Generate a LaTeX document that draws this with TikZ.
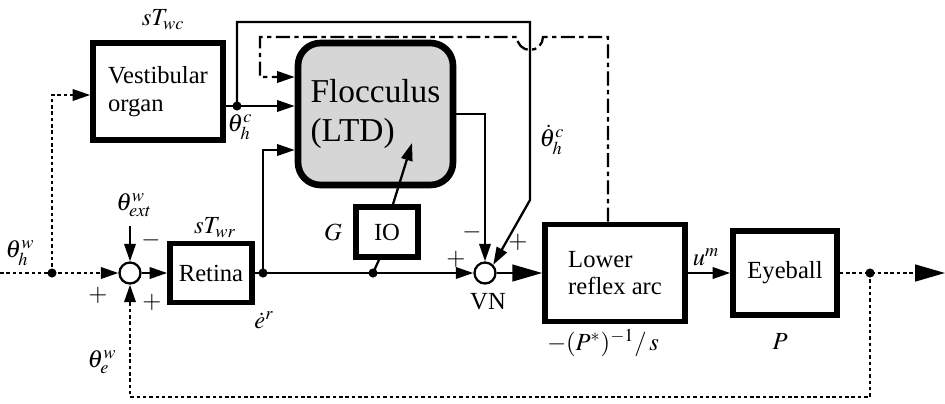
\documentclass[tikz,border=0pt]{standalone}
\usepackage{mathptmx}
\usepackage{fontspec}
\setmainfont{Liberation Serif}
\usetikzlibrary{arrows.meta,positioning,calc}
\begin{document}
\begin{tikzpicture}[x=0.02cm,y=-0.02cm,
  blk/.style={
    draw, line width=3.2pt, fill=white,
    inner sep=2pt, font=\fontsize{14}{15.5}\selectfont
  },
  sum/.style={circle, draw, line width=1.3pt, fill=white, minimum size=0.42cm, inner sep=0},
  sig/.style={line width=1.3pt, -{Triangle[length=10pt,width=6.5pt]}},
  bigsig/.style={line width=1.3pt, -{Triangle[length=17pt,width=9.5pt]}},
  dotsig/.style={line width=1.4pt, dash pattern=on 2pt off 1.6pt},
  dashdot/.style={line width=1.4pt, dash pattern=on 8pt off 2.5pt on 2.5pt off 2.5pt},
  lab/.style={font=\fontsize{14}{15.5}\selectfont, inner sep=1pt},
]
\useasboundingbox (0,0) rectangle (945,403);
% Blocks
\node[blk,minimum width=2.6cm,minimum height=1.94cm,align=left] (vest) at (158,91.5) {Vestibular\\organ};
\node[blk,minimum width=3.1cm,minimum height=2.84cm,rounded corners=0.45cm,line width=3.8pt,
  fill=gray!32,align=left,font=\fontsize{19}{22.5}\selectfont] (floc) at (375.5,114) {Flocculus\\(LTD)};
\node[blk,minimum width=1.64cm,minimum height=1.18cm,inner sep=0pt] (ret) at (211,273) {Retina};
\node[blk,minimum width=1.24cm,minimum height=1.0cm] (io) at (387,232) {IO};
\node[blk,minimum width=2.8cm,minimum height=1.94cm,align=left] (low) at (615,273) {Lower\\reflex arc};
\node[blk,minimum width=2.08cm,minimum height=1.68cm] (eye) at (785,273) {Eyeball};
% Summing points
\node[sum] (s1) at (130,273) {};
\node[sum] (vn) at (485,273) {};
% Branch points
\coordinate (in)   at (0,273);
\coordinate (jin)  at (52,273);
\coordinate (vin)  at (52,95);
\coordinate (jvc)  at (237,106);
\coordinate (vc1)  at (237,22);
\coordinate (vc2)  at (530,200);
\coordinate (jret) at (263,273);
\coordinate (rf)   at (263,150);
\coordinate (jio)  at (373,273);
\coordinate (ltd)  at (412,143);
\coordinate (jeye) at (870,273);
\coordinate (fb)   at (870,397);
\coordinate (out)  at (945,273);
\coordinate (ext)  at (130,226);
\coordinate (hop)  at (543,37);
\coordinate (dd2)  at (260,77);
% Head rotation and feedback
\draw[dotsig] (in) -- (jin);
\draw[dotsig,sig] (jin) -- (s1);
\draw[dotsig,sig] (jin) |- (vest.west |- vin);
\draw[dotsig,bigsig] (eye.east) -- (out);
\draw[dotsig,sig] (jeye) -- (fb) -| (s1.south);
\draw[sig] (ext) -- (s1.north);
% Retinal slip path
\draw[sig] (s1) -- (ret);
\draw[sig] (ret) -- (vn);
\draw[sig] (jret) |- (floc.west |- rf);
\draw[line width=1.3pt] (jio) -- ([xshift=-0.16cm]io.south);
\draw[sig] ([xshift=0.12cm]io.north) -- (ltd);
% Vestibular path
\draw[sig] (vest.east |- jvc) -- (floc.west |- jvc);
\draw[sig] (jvc) -- (vc1) -| (vc2) -- (vn.north east);
\draw[sig] (floc.east) -| (vn.north);
\draw[bigsig] (vn) -- (vn -| low.west);
\draw[sig] (low.east) -- (eye.west);
% Efference copy
\draw[dashdot,sig] ([xshift=-0.14cm]low.north) |- (hop)
  arc[start angle=0,end angle=-180,radius=0.26cm] -| (dd2) -- (floc.west |- dd2);
\foreach \j in {jin,jvc,jret,jio,jeye}
  \fill (\j) circle (2.6pt);
% Labels
\node[lab] (twc) at (163,20) {$sT_{wc}$};
\node[lab] (twr) at (215,228) {$sT_{wr}$};
\node[lab] (thc) at (240,127) {$\theta_h^c$};
\node[lab] (dthc) at (552,140) {$\dot\theta_h^c$};
\node[lab] (thw) at (20,253) {$\theta_h^w$};
\node[lab] (tew) at (102,362) {$\theta_e^w$};
\node[lab] (txw) at (134,205) {$\theta_{ext}^w$};
\node[lab] (er) at (264,320) {$\dot e^r$};
\node[lab] (g) at (333,232) {$G$};
\node[lab] (vnl) at (488,302) {VN};
\node[lab] (um) at (706,257) {$u^m$};
\node[lab] (pinv) at (603,343) {$-(P^*)^{-1}/\,s$};
\node[lab] (p) at (780,342) {$P$};
% Signs
\node[lab] (m1) at (151,240) {$-$};
\node[lab] (p1) at (98,295) {$+$};
\node[lab] (p2) at (152,302) {$+$};
\node[lab] (p3) at (456,259) {$+$};
\node[lab] (m2) at (472,232) {$-$};
\node[lab] (p4) at (518,242) {$+$};
\end{tikzpicture}
\end{document}
